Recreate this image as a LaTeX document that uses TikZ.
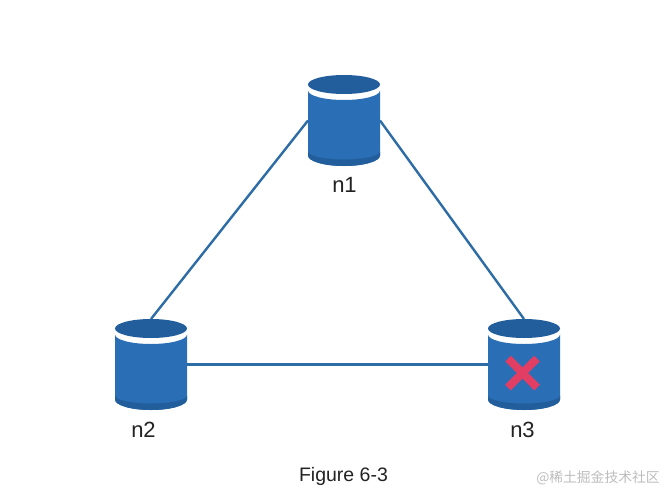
\documentclass[tikz,border=0pt]{standalone}
\usepackage{fontspec}
\setmainfont{Liberation Sans}
\newfontfamily\cjkfont{Noto Sans CJK SC}
\definecolor{cylbody}{HTML}{2A6EB5}
\definecolor{cyldark}{HTML}{225E9C}
\definecolor{linkblue}{HTML}{2E6CA6}
\definecolor{crossred}{HTML}{E23D63}
\definecolor{labelink}{HTML}{222222}
\definecolor{markgray}{HTML}{BDBDBD}
\tikzset{
  x=1pt,y=-1pt,
  dbbox/.style={rectangle,minimum width=72pt,minimum height=91pt,inner sep=0pt,outer sep=0pt},
  link/.style={draw=linkblue,line width=2.4pt},
  lbl/.style={font=\fontsize{22}{24}\selectfont,text=labelink,inner sep=0pt},
  caplbl/.style={font=\fontsize{19.5}{22}\selectfont,text=labelink,inner sep=0pt},
  crossline/.style={draw=crossred,line width=8pt}
}
% y axis points down: an arc from 180 to 0 or 0 to 180 bulges downwards
\newcommand{\dbshape}[1]{%
  \begin{scope}[shift={(#1)}]
    \fill[cylbody] (-36,-30) arc[start angle=180,end angle=0,x radius=36,y radius=9.5]
      -- (36,35) arc[start angle=0,end angle=180,x radius=36,y radius=10.5] -- cycle;
    \fill[cyldark] (36,35) arc[start angle=0,end angle=180,x radius=36,y radius=10.5]
      -- (-36,31) arc[start angle=180,end angle=0,x radius=36,y radius=8] -- cycle;
    \fill[cyldark] (0,-36) ellipse[x radius=36,y radius=9.5];
  \end{scope}}
\begin{document}
\begin{tikzpicture}
\useasboundingbox (0,0) rectangle (665,491);
\fill[white] (0,0) rectangle (665,491);
\node[dbbox] (n1) at (344,120.5) {};
\node[dbbox] (n2) at (151,364.5) {};
\node[dbbox] (n3) at (524,364.5) {};
\draw[link] (n1.west) -- (n2.north);
\draw[link] (n1.east) -- (n3.north);
\draw[link] (n2.east) -- (n3.west);
\dbshape{n1}
\dbshape{n2}
\dbshape{n3}
\draw[crossline] (508,358.5) -- (537,387.5);
\draw[crossline] (537,358.5) -- (508,387.5);
\node[lbl] (l1) at (344.5,185) {n1};
\node[lbl] (l2) at (143.5,430) {n2};
\node[lbl] (l3) at (522.5,430) {n3};
\node[caplbl] (cap) at (343.5,476) {Figure 6-3};
\node[font=\fontsize{13.8}{16}\cjkfont,text=markgray,inner sep=0pt] (mark) at (598,478) {@稀土掘金技术社区};
\end{tikzpicture}
\end{document}
